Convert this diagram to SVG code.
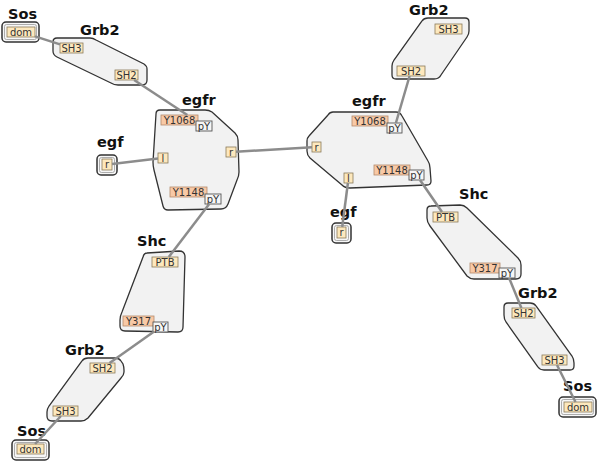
<svg xmlns="http://www.w3.org/2000/svg" width="600" height="464" viewBox="0 0 600 464">
<style>
.body{fill:#f2f2f2;stroke:#333;stroke-width:1.3}
.cx{fill:#f7f7f7;stroke:#333;stroke-width:1.5}
.cxi{fill:none;stroke:#999;stroke-width:0.8}
.site{fill:#fde8bd;stroke:#8a7a5a;stroke-width:0.8}
.ys{fill:#f8c9a6;stroke:#b38a6c;stroke-width:0.8}
.py{fill:#f6f6f6;stroke:#555;stroke-width:0.9}
.lbl{font-family:"DejaVu Sans",Verdana,sans-serif;font-size:14.5px;font-weight:bold;fill:#111}
.st{font-family:"DejaVu Sans",Verdana,sans-serif;font-size:10px;fill:#333;text-anchor:middle}
.ln{stroke:#8c8c8c;stroke-width:2.5;fill:none}
</style>
<rect width="600" height="464" fill="#fff"/>

<g id="sos1">
<text class="lbl" x="8" y="19">Sos</text>
<rect class="cx" x="2" y="22" width="37" height="20" rx="4"/>
<rect class="cxi" x="4.5" y="24.5" width="32" height="15" rx="2"/>
<rect class="site" x="7" y="27" width="28" height="10"/><text class="st" x="21" y="35.6">dom</text>
</g>

<g id="grb2a">
<text class="lbl" x="80" y="35">Grb2</text>
<path class="body" d="M57,38 L90,38 Q93,38 96,40 L144,64 Q147,66 147,69 L147,80 Q147,85 142,85 L118,85 Q114,85 111,83 L57,57 Q53,55 53,51 L53,42 Q53,38 57,38 Z"/>
<rect class="site" x="60" y="43" width="23" height="10"/><text class="st" x="71.5" y="51.6">SH3</text>
<rect class="site" x="115" y="70" width="23" height="10"/><text class="st" x="126.5" y="78.6">SH2</text>
</g>

<g id="egfr1">
<text class="lbl" x="182" y="105">egfr</text>
<path class="body" d="M160,110 L205,110 Q209,110 212,112 L235,133 Q238,136 238,140 L239,172 Q239,176 237,180 L228,204 Q226,209 221,209 L168,210 Q164,210 163,206 L154,170 Q153,166 153,162 L156,114 Q156,110 160,110 Z"/>
<rect class="ys" x="161" y="115" width="37" height="10"/><text class="st" x="179.5" y="123.6">Y1068</text>
<rect class="py" x="196" y="121" width="16" height="10"/><text class="st" x="204" y="129.6">pY</text>
<rect class="site" x="158" y="153" width="10" height="10"/><text class="st" x="163" y="161.6">l</text>
<rect class="site" x="226" y="147" width="10" height="10"/><text class="st" x="231" y="155.6">r</text>
<rect class="ys" x="170" y="187" width="37" height="10"/><text class="st" x="188.5" y="195.6">Y1148</text>
<rect class="py" x="205" y="194" width="16" height="10"/><text class="st" x="213" y="202.6">pY</text>
</g>

<g id="egf1">
<text class="lbl" x="97" y="147">egf</text>
<rect class="cx" x="97" y="155" width="20" height="20" rx="4"/>
<rect class="cxi" x="99.5" y="157.5" width="15" height="15" rx="2"/>
<rect class="site" x="102" y="159" width="10" height="11"/><text class="st" x="107" y="168">r</text>
</g>

<g id="shc1">
<text class="lbl" x="137" y="246">Shc</text>
<path class="body" d="M147,253 L179,251 Q185,251 185,257 L183,327 Q183,332 178,332 L125,331 Q120,331 120,326 L120,320 Q120,316 122,312 L143,257 Q144,253 147,253 Z"/>
<rect class="site" x="152" y="257" width="26" height="10"/><text class="st" x="165" y="265.6">PTB</text>
<rect class="ys" x="123" y="316" width="31" height="10"/><text class="st" x="138.5" y="324.6">Y317</text>
<rect class="py" x="153" y="322" width="15" height="10"/><text class="st" x="160.5" y="330.6">pY</text>
</g>

<g id="grb2b">
<text class="lbl" x="65" y="355">Grb2</text>
<path class="body" d="M88,358 L115,358 Q119,358 121,361 L123,364 Q124,367 124,370 L124,372 Q124,375 121,378 L88,418 Q85,421 81,421 L52,421 Q47,421 47,416 L47,412 Q47,409 49,406 L82,361 Q84,358 88,358 Z"/>
<rect class="site" x="90" y="363" width="25" height="10"/><text class="st" x="102.5" y="371.6">SH2</text>
<rect class="site" x="53" y="406" width="25" height="10"/><text class="st" x="65.5" y="414.6">SH3</text>
</g>

<g id="sos2">
<text class="lbl" x="17" y="436">Sos</text>
<rect class="cx" x="12" y="440" width="37" height="20" rx="4"/>
<rect class="cxi" x="14.5" y="442.5" width="32" height="15" rx="2"/>
<rect class="site" x="17" y="444" width="27" height="10"/><text class="st" x="30.5" y="452.6">dom</text>
</g>

<g id="egfr2">
<text class="lbl" x="352" y="106">egfr</text>
<path class="body" d="M333,112 L396,112 Q400,112 402,116 L428,161 Q430,164 430,168 L431,181 Q431,185 427,185 L350,188 Q345,188 342,185 L310,158 Q307,155 307,151 L307,141 Q307,138 309,136 L328,115 Q330,112 333,112 Z"/>
<rect class="ys" x="352" y="116" width="36" height="10"/><text class="st" x="370" y="124.6">Y1068</text>
<rect class="py" x="387" y="123" width="15" height="10"/><text class="st" x="394.5" y="131.6">pY</text>
<rect class="site" x="312" y="142" width="9" height="10"/><text class="st" x="316.5" y="150.6">r</text>
<rect class="ys" x="374" y="165" width="36" height="10"/><text class="st" x="392" y="173.6">Y1148</text>
<rect class="py" x="409" y="170" width="15" height="10"/><text class="st" x="416.5" y="178.6">pY</text>
<rect class="site" x="344" y="173" width="9" height="10"/><text class="st" x="348.5" y="181.6">l</text>
</g>

<g id="egf2">
<text class="lbl" x="330" y="217">egf</text>
<rect class="cx" x="332" y="223" width="19" height="20" rx="4"/>
<rect class="cxi" x="334.5" y="225.5" width="14" height="15" rx="2"/>
<rect class="site" x="337" y="227" width="9" height="11"/><text class="st" x="341.5" y="236">r</text>
</g>

<g id="grb2c">
<text class="lbl" x="409" y="15">Grb2</text>
<path class="body" d="M428,18 L465,18 Q469,18 469,22 L469,31 Q469,34 467,37 L441,75 Q439,79 434,79 L396,79 Q392,79 392,75 L392,66 Q392,63 394,60 L422,21 Q424,18 428,18 Z"/>
<rect class="site" x="435" y="24" width="27" height="10"/><text class="st" x="448.5" y="32.6">SH3</text>
<rect class="site" x="397" y="66" width="28" height="10"/><text class="st" x="411" y="74.6">SH2</text>
</g>

<g id="shc2">
<text class="lbl" x="459" y="199">Shc</text>
<path class="body" d="M431,206 L460,205 Q464,205 467,208 L518,258 Q521,261 521,265 L521,274 Q521,279 516,279 L474,279 Q470,279 467,276 L430,226 Q427,222 427,218 L427,210 Q427,206 431,206 Z"/>
<rect class="site" x="433" y="212" width="25" height="10"/><text class="st" x="445.5" y="220.6">PTB</text>
<rect class="ys" x="470" y="263" width="30" height="10"/><text class="st" x="485" y="271.6">Y317</text>
<rect class="py" x="499" y="268" width="16" height="10"/><text class="st" x="507" y="276.6">pY</text>
</g>

<g id="grb2d">
<text class="lbl" x="518" y="298">Grb2</text>
<path class="body" d="M508,303 L530,303 Q534,303 536,306 L572,356 Q574,359 574,363 L574,366 Q574,370 570,370 L544,370 Q540,370 538,367 L506,322 Q504,319 504,315 L504,307 Q504,303 508,303 Z"/>
<rect class="site" x="512" y="308" width="23" height="10"/><text class="st" x="523.5" y="316.6">SH2</text>
<rect class="site" x="542" y="355" width="25" height="10"/><text class="st" x="554.5" y="363.6">SH3</text>
</g>

<g id="sos3">
<text class="lbl" x="563" y="391">Sos</text>
<rect class="cx" x="559" y="397" width="37" height="20" rx="4"/>
<rect class="cxi" x="561.5" y="399.5" width="32" height="15" rx="2"/>
<rect class="site" x="564" y="402" width="28" height="10"/><text class="st" x="578" y="410.6">dom</text>
</g>

<g id="connectors">
<line class="ln" x1="35" y1="36.4" x2="60" y2="44.4"/>
<line class="ln" x1="134.1" y1="80" x2="187.3" y2="115"/>
<line class="ln" x1="112" y1="163.9" x2="158" y2="158.6"/>
<line class="ln" x1="236" y1="151.7" x2="312" y2="147.3"/>
<line class="ln" x1="209.2" y1="204" x2="168.8" y2="257"/>
<line class="ln" x1="153.4" y1="332" x2="109.6" y2="363"/>
<line class="ln" x1="60.9" y1="416" x2="35.1" y2="444"/>
<line class="ln" x1="409.6" y1="76" x2="395.9" y2="123"/>
<line class="ln" x1="347.9" y1="183" x2="342.2" y2="227"/>
<line class="ln" x1="420" y1="180" x2="442" y2="212"/>
<line class="ln" x1="509.1" y1="278" x2="521.4" y2="308"/>
<line class="ln" x1="557" y1="365" x2="575.5" y2="402"/>
</g>
</svg>
